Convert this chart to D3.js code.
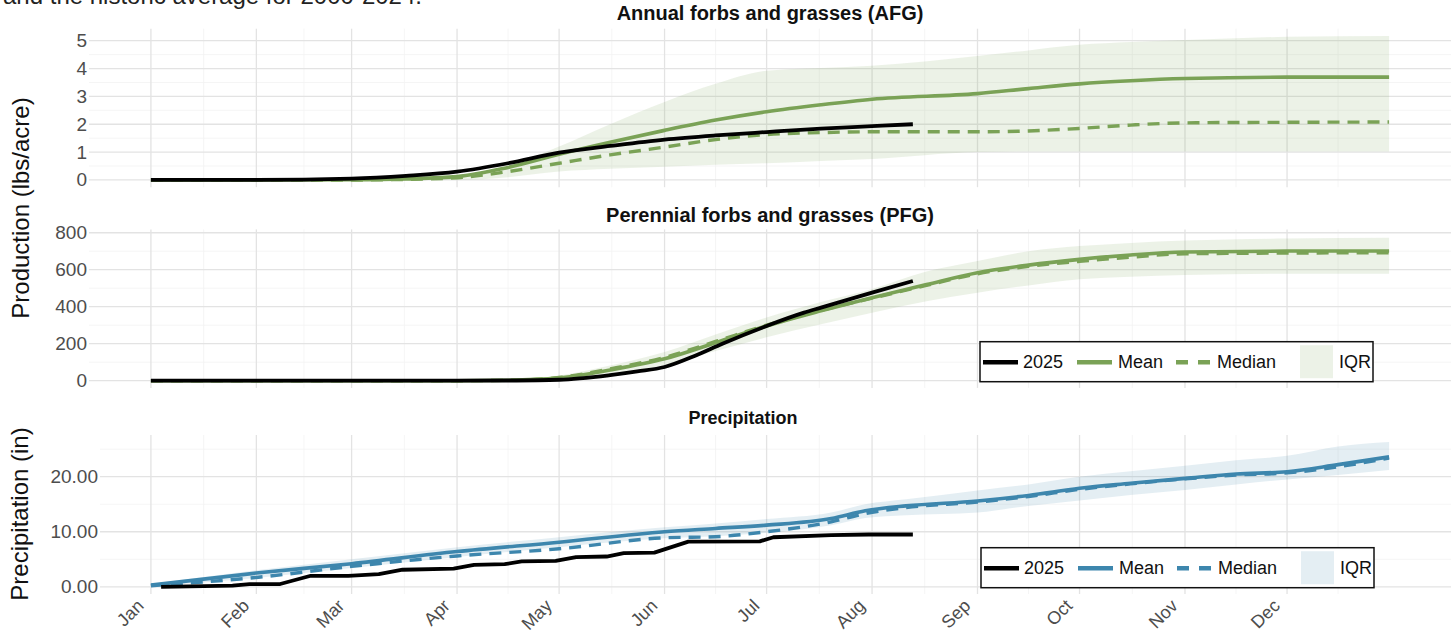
<!DOCTYPE html>
<html>
<head>
<meta charset="utf-8">
<script src="https://cdn.jsdelivr.net/npm/d3@7"></script>
<style>
  body { margin: 0; background: #fff; }
  text { font-family: "Liberation Sans", Arial, sans-serif; }
</style>
</head>
<body>
<script>
// --- data (dates are month-day in 2025) ---
const afgDates = ["01-01","02-01","03-01","03-17","04-01","04-16","05-01","05-16","06-01","06-16",
  "07-01","07-17","08-01","09-01","09-16","10-01","10-16","11-01","12-01","12-31"];
const afgMean   = [0, 0, 0.01, 0.04, 0.12, 0.45, 0.92, 1.35, 1.78, 2.15, 2.45, 2.7, 2.9, 3.1, 3.28, 3.45, 3.56, 3.64, 3.69, 3.69];
const afgMedian = [0, 0, 0, 0.02, 0.08, 0.3, 0.6, 0.9, 1.18, 1.45, 1.63, 1.7, 1.73, 1.73, 1.76, 1.85, 1.97, 2.05, 2.07, 2.08];
const afgQ75    = [0, 0, 0.02, 0.05, 0.12, 0.5, 1.2, 2.0, 2.8, 3.45, 3.92, 4.02, 4.1, 4.45, 4.65, 4.85, 4.95, 5.02, 5.14, 5.17];
const afgQ25    = [0, 0, 0, 0, 0, 0.1, 0.3, 0.4, 0.47, 0.55, 0.6, 0.68, 0.75, 1.0, 1.02, 1.02, 1.02, 1.02, 1.02, 1.02];
const afg2025Dates = ["01-01","02-01","03-01","03-17","04-01","04-16","05-01","05-16","06-01","06-16","07-01","07-17","08-01","08-13"];
const afg2025      = [0, 0, 0.05, 0.15, 0.3, 0.6, 0.98, 1.22, 1.45, 1.6, 1.72, 1.84, 1.93, 2.0];

const pfgDates = ["01-01","04-01","04-16","05-01","05-16","06-01","06-16","07-01","07-17","08-01",
  "08-17","09-01","09-16","10-01","10-16","11-01","12-01","12-31"];
const pfgMean   = [0, 0, 2, 15, 58, 118, 205, 296, 378, 449, 520, 584, 625, 656, 680, 696, 701, 701];
const pfgMedian = [0, 0, 2, 17, 64, 126, 212, 300, 380, 446, 515, 578, 618, 645, 668, 686, 690, 692];
const pfgQ75    = [0, 0, 4, 28, 82, 155, 250, 342, 425, 496, 590, 647, 700, 728, 745, 758, 769, 773];
const pfgQ25    = [0, 0, 0, 5, 32, 85, 160, 235, 305, 368, 430, 476, 515, 548, 562, 571, 578, 578];
const pfg2025Dates = ["01-01","04-01","04-16","05-01","05-16","05-24","06-01","06-10","06-18","07-01","07-12","07-17","08-01","08-13"];
const pfg2025      = [0, 0, 1, 5, 30, 50, 74, 135, 200, 296, 368, 395, 476, 539];

const precipDates = ["01-01","02-01","03-01","04-01","05-01","06-01","06-16","07-01","07-20","07-30",
  "08-11","09-01","09-16","10-01","10-16","11-01","11-16","12-01","12-16","12-31"];
const precipMean   = [0.3, 2.5, 4.2, 6.4, 8.1, 10.0, 10.6, 11.2, 12.4, 13.8, 14.7, 15.6, 16.6, 17.9, 18.8, 19.7, 20.5, 20.9, 22.2, 23.6];
const precipMedian = [0.2, 1.7, 3.7, 5.6, 6.9, 8.9, 9.1, 10.0, 11.8, 13.3, 14.4, 15.4, 16.4, 17.7, 18.7, 19.6, 20.3, 20.7, 21.8, 23.4];
const precipQ75    = [0.5, 3.0, 5.0, 7.2, 9.0, 10.8, 11.5, 12.3, 13.5, 15.0, 15.9, 17.5, 18.6, 20.0, 21.0, 22.0, 23.0, 23.8, 25.5, 26.3];
const precipQ25    = [0.1, 1.6, 3.4, 5.4, 7.2, 8.8, 9.2, 9.8, 11.2, 12.5, 13.0, 13.5, 14.7, 15.7, 16.7, 17.6, 18.6, 19.5, 20.3, 21.2];
const precip2025Dates = ["01-04","01-25","01-30","02-08","02-17","02-28","03-09","03-16","03-31","04-06","04-15","04-20",
  "04-30","05-06","05-15","05-20","05-29","06-08","06-29","07-03","07-20","07-31","08-13"];
const precip2025      = [0, 0.2, 0.5, 0.5, 2.0, 2.0, 2.3, 3.1, 3.3, 4.0, 4.1, 4.6, 4.7, 5.4, 5.5, 6.1, 6.2, 8.2, 8.25, 9.0, 9.4, 9.5, 9.5];

const afgTicks = [0, 1, 2, 3, 4, 5];
const pfgTicks = [0, 200, 400, 600, 800];
const precipTicks = [0, 10, 20];
const legendLabels = ["2025", "Mean", "Median", "IQR"];

// --- setup ---
const W = 1456, H = 642;
const green = "#7aa256", blue = "#3d86ad";
const grey = "#4d4d4d";

const svg = d3.select("body").append("svg").attr("width", W).attr("height", H);

const parse = d3.timeParse("%Y-%m-%d");
const toDate = (s) => parse("2025-" + s);
const start = toDate("01-01"), end = toDate("12-31");
const pad = (end - start) * 0.05;
const x = d3.scaleTime()
  .domain([new Date(+start - pad), new Date(+end + pad)])
  .range([89, 1451]);

const monthTicks = d3.timeMonth.range(start, end);
const minorX = monthTicks.slice(0, -1).map((m, i) => new Date((+m + +monthTicks[i + 1]) / 2));
minorX.push(new Date(+monthTicks[11] + (monthTicks[11] - monthTicks[10]) / 2));

const zip = (dates, ...cols) => dates.map((d, i) => ({ date: toDate(d), v: cols.map((c) => c[i]) }));

const drawPanel = (p) => {
  const g = svg.append("g");
  const y = d3.scaleLinear().domain(p.yDomain).range([p.bottom, p.top]);
  const step = p.ticks[1] - p.ticks[0];
  const minorY = [];
  for (let v = p.ticks[0] - step / 2; v <= p.yDomain[1]; v += step) {
    if (v >= p.yDomain[0]) minorY.push(v);
  }

  // grid
  g.selectAll(".my").data(minorY).join("line")
    .attr("x1", p.left).attr("x2", 1451)
    .attr("y1", (d) => y(d)).attr("y2", (d) => y(d))
    .attr("stroke", "#f2f2f2").attr("stroke-width", 0.8);
  g.selectAll(".mx").data(minorX).join("line")
    .attr("x1", (d) => x(d)).attr("x2", (d) => x(d))
    .attr("y1", p.top).attr("y2", p.bottom)
    .attr("stroke", "#f2f2f2").attr("stroke-width", 0.8);
  g.selectAll(".gy").data(p.ticks).join("line")
    .attr("x1", p.left).attr("x2", 1451)
    .attr("y1", (d) => y(d)).attr("y2", (d) => y(d))
    .attr("stroke", "#e3e3e3").attr("stroke-width", 1.3);
  g.selectAll(".gx").data(monthTicks).join("line")
    .attr("x1", (d) => x(d)).attr("x2", (d) => x(d))
    .attr("y1", p.top).attr("y2", p.bottom)
    .attr("stroke", "#e3e3e3").attr("stroke-width", 1.3);

  // y tick labels
  g.selectAll(".ty").data(p.ticks).join("text")
    .attr("x", p.left - 2).attr("y", (d) => y(d))
    .attr("text-anchor", "end").attr("dominant-baseline", "central")
    .attr("font-size", 19).attr("fill", grey)
    .text(p.fmt);

  // IQR band, mean, median, 2025
  const rows = zip(p.dates, p.mean, p.median, p.q25, p.q75);
  const area = d3.area()
    .x((d) => x(d.date)).y0((d) => y(d.v[2])).y1((d) => y(d.v[3]))
    .curve(d3.curveMonotoneX);
  g.append("path").attr("d", area(rows))
    .attr("fill", p.color).attr("fill-opacity", 0.14);

  const line = (k) => d3.line()
    .x((d) => x(d.date)).y((d) => y(d.v[k]))
    .curve(d3.curveMonotoneX);
  g.append("path").attr("d", line(0)(rows))
    .attr("fill", "none").attr("stroke", p.color).attr("stroke-width", 3.6);
  g.append("path").attr("d", line(1)(rows))
    .attr("fill", "none").attr("stroke", p.color).attr("stroke-width", 3.4)
    .attr("stroke-dasharray", "12,8");

  const cur = zip(p.curDates, p.cur);
  g.append("path").attr("d", line(0).curve(p.curCurve)(cur))
    .attr("fill", "none").attr("stroke", "#000").attr("stroke-width", 3.8)
    .attr("stroke-linejoin", "round");

  g.append("text")
    .attr("x", p.titleX).attr("y", p.titleY)
    .attr("text-anchor", "middle").attr("font-weight", "bold")
    .attr("font-size", p.titleSize).attr("fill", "#111")
    .text(p.title);
};

const drawLegend = (left, top, color) => {
  const g = svg.append("g").attr("transform", `translate(${left},${top})`);
  g.append("rect").attr("width", 393).attr("height", 40)
    .attr("fill", "#fff").attr("stroke", "#111").attr("stroke-width", 1.5);
  const keyX = [3, 97, 196];
  const textX = [43, 138, 237, 359];
  keyX.forEach((kx, i) => {
    g.append("line").attr("x1", kx).attr("x2", kx + 35).attr("y1", 20.5).attr("y2", 20.5)
      .attr("stroke", i === 0 ? "#000" : color).attr("stroke-width", 4.5)
      .attr("stroke-dasharray", i === 2 ? "12,10" : null);
  });
  g.append("rect").attr("x", 320).attr("y", 3.5).attr("width", 33).attr("height", 33)
    .attr("fill", color).attr("fill-opacity", 0.14);
  g.selectAll(".lt").data(legendLabels).join("text")
    .attr("x", (d, i) => textX[i]).attr("y", 20.5)
    .attr("dominant-baseline", "central")
    .attr("font-size", 18).attr("fill", "#111")
    .text((d) => d);
};

// header line, cropped at the top edge as in the reference
svg.append("text").attr("x", 3).attr("y", 3.5)
  .attr("font-size", 24).attr("fill", "#222")
  .text("and the historic average for 2000-2024.");

drawPanel({
  left: 89, top: 28.7, bottom: 187.2, yDomain: [-0.26, 5.43], ticks: afgTicks, fmt: (d) => d,
  dates: afgDates, mean: afgMean, median: afgMedian, q25: afgQ25, q75: afgQ75,
  curDates: afg2025Dates, cur: afg2025, curCurve: d3.curveMonotoneX, color: green,
  title: "Annual forbs and grasses (AFG)", titleX: 770, titleY: 20, titleSize: 20
});
drawPanel({
  left: 89, top: 229.4, bottom: 387.9, yDomain: [-39, 818], ticks: pfgTicks, fmt: (d) => d,
  dates: pfgDates, mean: pfgMean, median: pfgMedian, q25: pfgQ25, q75: pfgQ75,
  curDates: pfg2025Dates, cur: pfg2025, curCurve: d3.curveMonotoneX, color: green,
  title: "Perennial forbs and grasses (PFG)", titleX: 770, titleY: 222, titleSize: 20
});
drawPanel({
  left: 100, top: 435, bottom: 594, yDomain: [-1.31, 27.58], ticks: precipTicks, fmt: d3.format(".2f"),
  dates: precipDates, mean: precipMean, median: precipMedian, q25: precipQ25, q75: precipQ75,
  curDates: precip2025Dates, cur: precip2025, curCurve: d3.curveLinear, color: blue,
  title: "Precipitation", titleX: 743, titleY: 424, titleSize: 18
});

drawLegend(980, 341.7, green);
drawLegend(981, 547.7, blue);

// axis titles
svg.append("text").attr("transform", "translate(29,208) rotate(-90)")
  .attr("text-anchor", "middle").attr("font-size", 24).attr("fill", "#111")
  .text("Production (lbs/acre)");
svg.append("text").attr("transform", "translate(28,514) rotate(-90)")
  .attr("text-anchor", "middle").attr("font-size", 24).attr("fill", "#111")
  .text("Precipitation (in)");

// month labels
const fmtMonth = d3.timeFormat("%b");
svg.selectAll(".tx").data(monthTicks).join("text")
  .attr("transform", (d) => `translate(${x(d) - 10.5},${602.5}) rotate(-45)`)
  .attr("text-anchor", "end").attr("dy", "0.35em")
  .attr("font-size", 18).attr("fill", grey)
  .text(fmtMonth);
</script>
</body>
</html>
